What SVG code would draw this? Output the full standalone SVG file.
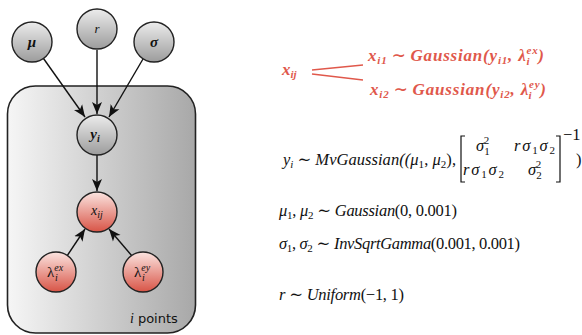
<svg xmlns="http://www.w3.org/2000/svg" width="582" height="335" viewBox="0 0 582 335">
<defs>
<linearGradient id="plateG" x1="0" y1="0" x2="1" y2="0">
<stop offset="0" stop-color="#f6f6f6"/>
<stop offset="1" stop-color="#a8a8a8"/>
</linearGradient>
<linearGradient id="grayG" x1="0" y1="0" x2="0" y2="1">
<stop offset="0" stop-color="#ececec"/>
<stop offset="1" stop-color="#9c9c9c"/>
</linearGradient>
<linearGradient id="redG" x1="0" y1="0" x2="0" y2="1">
<stop offset="0" stop-color="#fbe4e0"/>
<stop offset="1" stop-color="#d85446"/>
</linearGradient>
<marker id="arr" markerWidth="13" markerHeight="12" viewBox="0 0 13 12" refX="12" refY="6" orient="auto" markerUnits="userSpaceOnUse">
<path d="M0,1 L12,6 L0,11 L3,6 Z" fill="#111"/>
</marker>
</defs>
<style>
.plate{fill:url(#plateG);stroke:#222;stroke-width:1.6}
.gn{fill:url(#grayG);stroke:#222;stroke-width:1.4}
.rn{fill:url(#redG);stroke:#222;stroke-width:1.4}
.edge{stroke:#111;stroke-width:1.4;fill:none;marker-end:url(#arr)}
.m{font-family:"Liberation Serif","DejaVu Serif",serif;font-style:italic;fill:#111}
.mb{font-family:"Liberation Serif","DejaVu Serif",serif;font-style:italic;font-weight:bold;fill:#111}
.red{font-family:"Liberation Serif","DejaVu Serif",serif;font-style:italic;font-weight:bold;fill:#e0584b;font-size:17px}
.blk{font-family:"Liberation Serif","DejaVu Serif",serif;font-style:italic;fill:#111;font-size:16.5px}
.sans{font-family:"DejaVu Sans","Liberation Sans",sans-serif;font-style:normal;font-weight:normal}
.up{font-style:normal}
</style>
<g id="plate">
<rect class="plate" x="7.5" y="86" width="188" height="247" rx="28" ry="28"/>
<text x="130" y="323" class="m" font-size="14">i<tspan class="sans" font-size="13" dx="4">points</tspan></text>
</g>
<g id="connectors">
<line class="edge" x1="43.5" y1="58.5" x2="85" y2="117"/>
<line class="edge" x1="97" y1="50" x2="97" y2="114"/>
<line class="edge" x1="143" y1="59" x2="109" y2="117"/>
<line class="edge" x1="97" y1="155" x2="97" y2="191"/>
<line class="edge" x1="67" y1="256" x2="85" y2="229"/>
<line class="edge" x1="132" y1="256" x2="109" y2="229"/>
</g>
<g id="node-mu">
<circle class="gn" cx="32" cy="42" r="20"/>
<text x="32" y="47" class="mb" font-size="15" text-anchor="middle">μ</text>
</g>
<g id="node-r">
<circle class="gn" cx="97" cy="29" r="20"/>
<text x="97" y="33" class="m" font-size="13" text-anchor="middle">r</text>
</g>
<g id="node-sigma">
<circle class="gn" cx="154" cy="42" r="20"/>
<text x="154" y="47" class="mb" font-size="15" text-anchor="middle">σ</text>
</g>
<g id="node-yi">
<circle class="gn" cx="97" cy="135" r="20"/>
<text x="95" y="139" class="mb" font-size="15" text-anchor="middle">y<tspan font-size="10" dy="3">i</tspan></text>
</g>
<g id="node-xij">
<circle class="rn" cx="97" cy="212" r="20"/>
<text x="97" y="215" class="m" font-size="14" text-anchor="middle">x<tspan font-size="10" dy="3">ij</tspan></text>
</g>
<g id="node-lex">
<circle class="rn" cx="56" cy="272" r="20"/>
<text x="47" y="277" class="m" font-size="15"><tspan class="up">λ</tspan><tspan font-size="10" dy="-6">ex</tspan></text>
<text x="55" y="281" class="m" font-size="10">i</text>
</g>
<g id="node-ley">
<circle class="rn" cx="143" cy="272" r="20"/>
<text x="134" y="277" class="m" font-size="15"><tspan class="up">λ</tspan><tspan font-size="10" dy="-6">ey</tspan></text>
<text x="142" y="281" class="m" font-size="10">i</text>
</g>
<g id="likelihood">
<text x="282" y="75" class="red">x<tspan font-size="11" dy="3">ij</tspan></text>
<line x1="312" y1="70" x2="363" y2="65" stroke="#e0584b" stroke-width="1.4"/>
<line x1="312" y1="74" x2="363" y2="80" stroke="#e0584b" stroke-width="1.4"/>
<text x="368" y="61" class="red" textLength="176" lengthAdjust="spacing">x<tspan font-size="11" dy="3">i1</tspan><tspan dy="-3" dx="4">∼</tspan><tspan dx="4">Gaussian(y</tspan><tspan font-size="11" dy="3">i1</tspan><tspan dy="-3">, λ</tspan><tspan font-size="11" dy="-7">ex</tspan><tspan font-size="11" dx="-12" dy="11">i</tspan><tspan dx="8" dy="-4">)</tspan></text>
<text x="370" y="95" class="red" textLength="176" lengthAdjust="spacing">x<tspan font-size="11" dy="3">i2</tspan><tspan dy="-3" dx="4">∼</tspan><tspan dx="4">Gaussian(y</tspan><tspan font-size="11" dy="3">i2</tspan><tspan dy="-3">, λ</tspan><tspan font-size="11" dy="-7">ey</tspan><tspan font-size="11" dx="-12" dy="11">i</tspan><tspan dx="8" dy="-4">)</tspan></text>
</g>
<g id="priors">
<text x="283" y="165" class="blk" textLength="173" lengthAdjust="spacing">y<tspan font-size="11" dy="3">i</tspan><tspan dy="-3" dx="4">∼</tspan><tspan dx="4">MvGaussian((μ</tspan><tspan font-size="11" dy="3" class="up">1</tspan><tspan dy="-3" class="up">, </tspan>μ<tspan font-size="11" dy="3" class="up">2</tspan><tspan dy="-3" class="up">),</tspan></text>
<path d="M465,136 L461,136 L461,182 L465,182" fill="none" stroke="#111" stroke-width="1.2"/>
<path d="M556,136 L560,136 L560,182 L556,182" fill="none" stroke="#111" stroke-width="1.2"/>
<text x="476" y="151" class="blk">σ<tspan font-size="11" dy="4" class="up">1</tspan><tspan font-size="11" dx="-6" dy="-11" class="up">2</tspan></text>
<text x="514" y="151" class="blk" textLength="41" lengthAdjust="spacing">rσ<tspan font-size="11" dy="3" class="up">1</tspan><tspan dy="-3">σ</tspan><tspan font-size="11" dy="3" class="up">2</tspan></text>
<text x="463" y="175" class="blk" textLength="41" lengthAdjust="spacing">rσ<tspan font-size="11" dy="3" class="up">1</tspan><tspan dy="-3">σ</tspan><tspan font-size="11" dy="3" class="up">2</tspan></text>
<text x="528" y="175" class="blk">σ<tspan font-size="11" dy="4" class="up">2</tspan><tspan font-size="11" dx="-6" dy="-11" class="up">2</tspan></text>
<text x="563" y="140" class="blk up" font-size="11">−1</text>
<text x="576" y="165" class="blk up">)</text>
<text x="279" y="216" class="blk" textLength="178" lengthAdjust="spacing">μ<tspan font-size="11" dy="3" class="up">1</tspan><tspan dy="-3" class="up">, </tspan>μ<tspan font-size="11" dy="3" class="up">2</tspan><tspan dy="-3" dx="4">∼</tspan><tspan dx="4">Gaussian</tspan><tspan class="up">(0, 0.001)</tspan></text>
<text x="279" y="249" class="blk" textLength="241" lengthAdjust="spacing">σ<tspan font-size="11" dy="3" class="up">1</tspan><tspan dy="-3" class="up">, </tspan>σ<tspan font-size="11" dy="3" class="up">2</tspan><tspan dy="-3" dx="4">∼</tspan><tspan dx="4">InvSqrtGamma</tspan><tspan class="up">(0.001, 0.001)</tspan></text>
<text x="279" y="300" class="blk" textLength="125" lengthAdjust="spacing">r<tspan dx="4">∼</tspan><tspan dx="4">Uniform</tspan><tspan class="up">(−1, 1)</tspan></text>
</g>
</svg>
